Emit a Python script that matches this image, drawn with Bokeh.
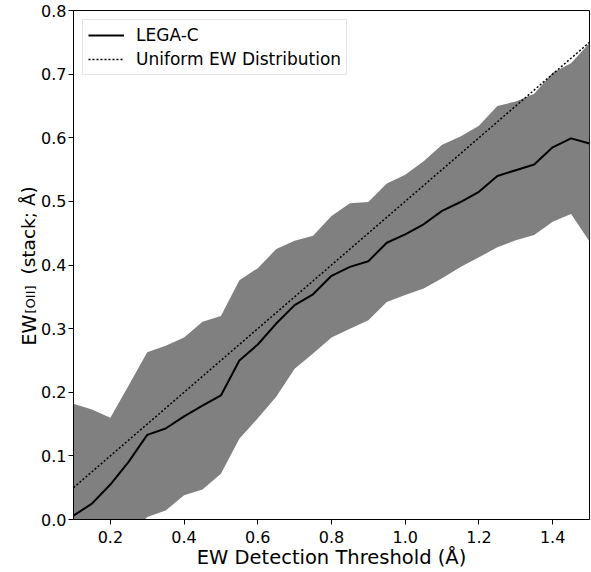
import math
from bokeh.plotting import figure
from bokeh.layouts import row
from bokeh.models import Legend, LegendItem, Range1d, FixedTicker
from bokeh.core.properties import value
from bokeh.embed import file_html
from bokeh.resources import INLINE

# ---- data ----
threshold = [0.10, 0.15, 0.20, 0.25, 0.30, 0.35, 0.40, 0.45, 0.50, 0.55,
             0.60, 0.65, 0.70, 0.75, 0.80, 0.85, 0.90, 0.95, 1.00, 1.05,
             1.10, 1.15, 1.20, 1.25, 1.30, 1.35, 1.40, 1.45, 1.50]
ew_mean = [0.006, 0.025, 0.055, 0.091, 0.133, 0.143, 0.162, 0.179, 0.195, 0.250,
           0.275, 0.308, 0.337, 0.354, 0.383, 0.397, 0.406, 0.435, 0.448, 0.464,
           0.485, 0.499, 0.515, 0.540, 0.549, 0.558, 0.585, 0.599, 0.591]
ew_upper = [0.182, 0.173, 0.160, 0.211, 0.263, 0.273, 0.286, 0.311, 0.320, 0.376,
            0.395, 0.425, 0.438, 0.446, 0.477, 0.497, 0.499, 0.528, 0.542, 0.563,
            0.589, 0.602, 0.619, 0.650, 0.657, 0.669, 0.702, 0.717, 0.749]
ew_lower = [-0.170, -0.123, -0.050, -0.029, 0.004, 0.014, 0.038, 0.047, 0.072, 0.127,
            0.159, 0.193, 0.237, 0.261, 0.286, 0.300, 0.313, 0.342, 0.353, 0.363,
            0.379, 0.397, 0.412, 0.428, 0.439, 0.447, 0.468, 0.480, 0.437]
uniform_x = [0.10, 1.50]
uniform_y = [0.05, 0.75]

x_ticks = [0.2, 0.4, 0.6, 0.8, 1.0, 1.2, 1.4]
x_tick_labels = ["0.2", "0.4", "0.6", "0.8", "1.0", "1.2", "1.4"]
y_ticks = [0.0, 0.1, 0.2, 0.3, 0.4, 0.5, 0.6, 0.7, 0.8]
y_tick_labels = ["0.0", "0.1", "0.2", "0.3", "0.4", "0.5", "0.6", "0.7", "0.8"]

y_label_parts = ["EW", "[OII]", "(stack; Å)"]

FONT = "DejaVu Sans"
W_LAB = 38
H = 572

# ---- narrow strip holding the y-axis title (with subscript) as real text ----
# its ranges are in pixels: x from the left edge, y from the bottom edge
lab = figure(frame_width=W_LAB, frame_height=H, x_range=Range1d(0, W_LAB), y_range=Range1d(0, H),
             title=None, output_backend="svg", toolbar_location=None,
             min_border=0, min_border_left=0, min_border_right=0, min_border_top=0, min_border_bottom=0,
             x_axis_location=None, y_axis_location=None)
lab.grid.visible = False
lab.outline_line_color = None
lab.background_fill_color = "white"
lab.border_fill_color = "white"
ang = math.pi / 2
lab.text(x=[28.3], y=[H - 335], text=[y_label_parts[0]], angle=ang, text_font=value(FONT),
         text_font_size="19px", text_color="black", text_align="left", text_baseline="alphabetic")
lab.text(x=[29.5], y=[H - 303], text=[y_label_parts[1]], angle=ang, text_font=value(FONT),
         text_font_size="13px", text_color="black", text_align="left", text_baseline="alphabetic")
lab.text(x=[28.3], y=[H - 264], text=[y_label_parts[2]], angle=ang, text_font=value(FONT),
         text_font_size="18.5px", text_color="black", text_align="left", text_baseline="alphabetic")

# ---- main plot ----
p = figure(width=591 - W_LAB, height=H, x_range=Range1d(0.1, 1.5), y_range=Range1d(0.0, 0.8),
           output_backend="svg", toolbar_location=None,
           min_border_left=72 - W_LAB, min_border_right=2, min_border_top=10, min_border_bottom=53)
p.grid.visible = False
p.background_fill_color = "white"
p.border_fill_color = "white"
p.outline_line_color = "black"
p.outline_line_alpha = 1.0
p.outline_line_width = 1

band = p.varea(x=threshold, y1=ew_lower, y2=ew_upper, fill_color="#808080", fill_alpha=1.0)
mean_line = p.line(threshold, ew_mean, line_color="black", line_width=2)
uni_line = p.line(uniform_x, uniform_y, line_color="black", line_width=1.5, line_dash="2 2")

for ax, ticks, labels in ((p.xaxis, x_ticks, x_tick_labels), (p.yaxis, y_ticks, y_tick_labels)):
    ax.ticker = FixedTicker(ticks=ticks)
    ax.major_label_overrides = {t: l for t, l in zip(ticks, labels)}
    ax.minor_tick_line_color = None
    ax.major_tick_in = 0
    ax.major_tick_out = 5
    ax.major_tick_line_color = "black"
    ax.axis_line_color = "black"
    ax.major_label_text_font = FONT
    ax.major_label_text_font_size = "16px"
    ax.major_label_text_color = "black"
    ax.major_label_standoff = 2
p.xaxis.major_label_standoff = 6

p.xaxis.axis_label = "EW Detection Threshold (Å)"
p.xaxis.axis_label_text_font = FONT
p.xaxis.axis_label_text_font_size = "19.5px"
p.xaxis.axis_label_text_font_style = "normal"
p.xaxis.axis_label_text_color = "black"
p.xaxis.axis_label_standoff = 0

legend = Legend(items=[LegendItem(label="LEGA-C", renderers=[mean_line]),
                       LegendItem(label="Uniform EW Distribution", renderers=[uni_line])],
                location="top_left", margin=9, padding=5, spacing=4,
                glyph_width=36, glyph_height=20, label_height=20, label_standoff=12,
                label_text_font=FONT, label_text_font_size="17px", label_text_color="black",
                border_line_color="#cccccc", border_line_width=1,
                background_fill_color="white", background_fill_alpha=0.8)
p.add_layout(legend)

layout = row(lab, p, spacing=0)
open("out.html", "w").write(file_html(layout, INLINE))
